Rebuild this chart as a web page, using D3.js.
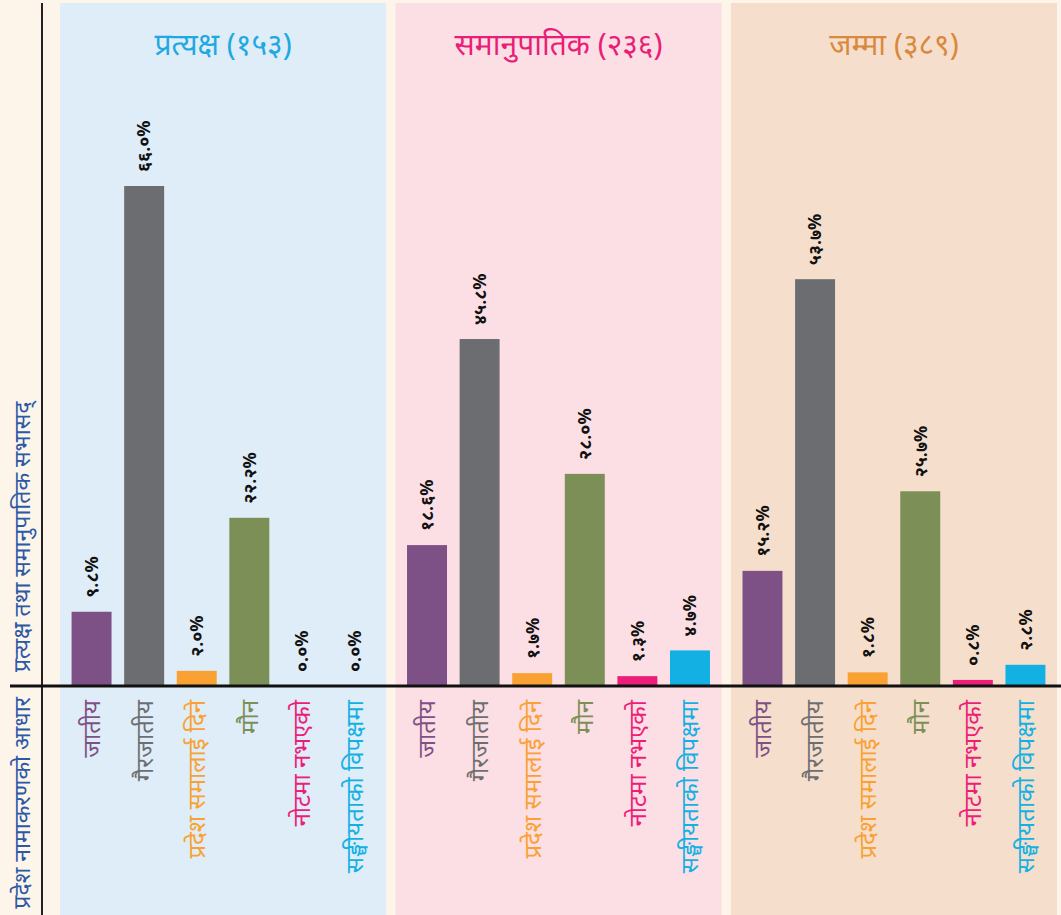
<!DOCTYPE html>
<html>
<head>
<meta charset="utf-8">
<script src="https://cdn.jsdelivr.net/npm/d3@7"></script>
<style>
  body { margin: 0; background: #fdf4ea; }
  svg { display: block; font-family: "Noto Sans", "Noto Sans Devanagari", sans-serif; }
</style>
</head>
<body>
<svg id="chart" width="1061" height="915"></svg>
<script>
// chart data
var groups = ["प्रत्यक्ष (१५३)", "समानुपातिक (२३६)", "जम्मा (३८९)"];
var categories = ["जातीय", "गैरजातीय", "प्रदेश समालाई दिने", "मौन", "नोटमा नभएको", "सङ्घीयताको विपक्षमा"];
var directValues = [9.8, 66.0, 2.0, 22.2, 0.0, 0.0];
var proportionalValues = [18.6, 45.8, 1.7, 28.0, 1.3, 4.7];
var totalValues = [15.2, 53.7, 1.8, 25.7, 0.8, 2.8];
var seriesValues = [directValues, proportionalValues, totalValues];

var panelColors = ["#deedf8", "#fcdfe4", "#f5dfcc"];
var titleColors = ["#1ea9e0", "#e91e77", "#d9893e"];
var barColors = ["#7e5186", "#6c6d71", "#f9a233", "#7b8f56", "#ec1e79", "#13b1e3"];
var labelColors = ["#7e5186", "#6d6e71", "#f9a233", "#7b8f56", "#ec1e79", "#13b1e3"];

var devDigits = "०१२३४५६७८९";
function toNepali(v) {
    return v.toFixed(1).replace(/[0-9]/g, function(d) { return devDigits[+d]; }) + "%";
}

var svg = d3.select("#chart");
var baseY = 686;

var x0 = d3.scaleBand().domain(groups).range([60, 1057]).paddingInner(0.028);
var x1 = d3.scaleBand().domain(categories).range([0, x0.bandwidth()])
    .paddingInner(0.24).paddingOuter(0.22);
var y = d3.scaleLinear().domain([0, 66]).range([baseY, 186]);

// panels
var panel = svg.selectAll(".panel")
    .data(groups)
    .enter().append("g")
    .attr("class", "panel")
    .attr("transform", function(d) { return "translate(" + x0(d) + ",0)"; });

panel.append("rect")
    .attr("x", 0).attr("y", 3)
    .attr("width", x0.bandwidth())
    .attr("height", 915)
    .attr("fill", function(d, i) { return panelColors[i]; });

panel.append("text")
    .attr("x", x0.bandwidth() / 2)
    .attr("y", 55)
    .attr("text-anchor", "middle")
    .attr("font-size", 30)
    .attr("fill", function(d, i) { return titleColors[i]; })
    .text(function(d) { return d; });

// bars
panel.each(function(g, gi) {
    var p = d3.select(this);
    var rows = categories.map(function(c, ci) { return { cat: c, ci: ci, value: seriesValues[gi][ci] }; });

    p.selectAll(".bar")
        .data(rows)
        .enter().append("rect")
        .attr("class", "bar")
        .attr("x", function(d) { return x1(d.cat); })
        .attr("y", function(d) { return y(d.value); })
        .attr("width", x1.bandwidth())
        .attr("height", function(d) { return baseY - y(d.value); })
        .attr("fill", function(d) { return barColors[d.ci]; });

    p.selectAll(".val")
        .data(rows)
        .enter().append("text")
        .attr("class", "val")
        .attr("transform", function(d) {
            return "translate(" + (x1(d.cat) + x1.bandwidth() / 2) + "," + (y(d.value) - 14) + ") rotate(-90)";
        })
        .attr("dy", "0.35em")
        .attr("font-size", 18)
        .attr("font-weight", "bold")
        .attr("fill", "#111")
        .text(function(d) { return toNepali(d.value); });

    p.selectAll(".cat")
        .data(rows)
        .enter().append("text")
        .attr("class", "cat")
        .attr("transform", function(d) {
            return "translate(" + (x1(d.cat) + x1.bandwidth() / 2) + "," + 700 + ") rotate(-90)";
        })
        .attr("dy", "0.35em")
        .attr("text-anchor", "end")
        .attr("font-size", 24)
        .attr("fill", function(d) { return labelColors[d.ci]; })
        .text(function(d) { return d.cat; });
});

// axes lines
svg.append("line")
    .attr("x1", 42).attr("x2", 42)
    .attr("y1", 3).attr("y2", 915)
    .attr("stroke", "#222").attr("stroke-width", 2);

svg.append("line")
    .attr("x1", 10).attr("x2", 1061)
    .attr("y1", baseY).attr("y2", baseY)
    .attr("stroke", "#111").attr("stroke-width", 3);

// axis titles
svg.append("text")
    .attr("transform", "translate(22,672) rotate(-90)")
    .attr("dy", "0.35em")
    .attr("font-size", 23)
    .attr("fill", "#2c58a6")
    .text("प्रत्यक्ष तथा समानुपातिक सभासद्");

svg.append("text")
    .attr("transform", "translate(22,697) rotate(-90)")
    .attr("dy", "0.35em")
    .attr("text-anchor", "end")
    .attr("font-size", 23)
    .attr("fill", "#2c58a6")
    .text("प्रदेश नामाकरणको आधार");
</script>
</body>
</html>
